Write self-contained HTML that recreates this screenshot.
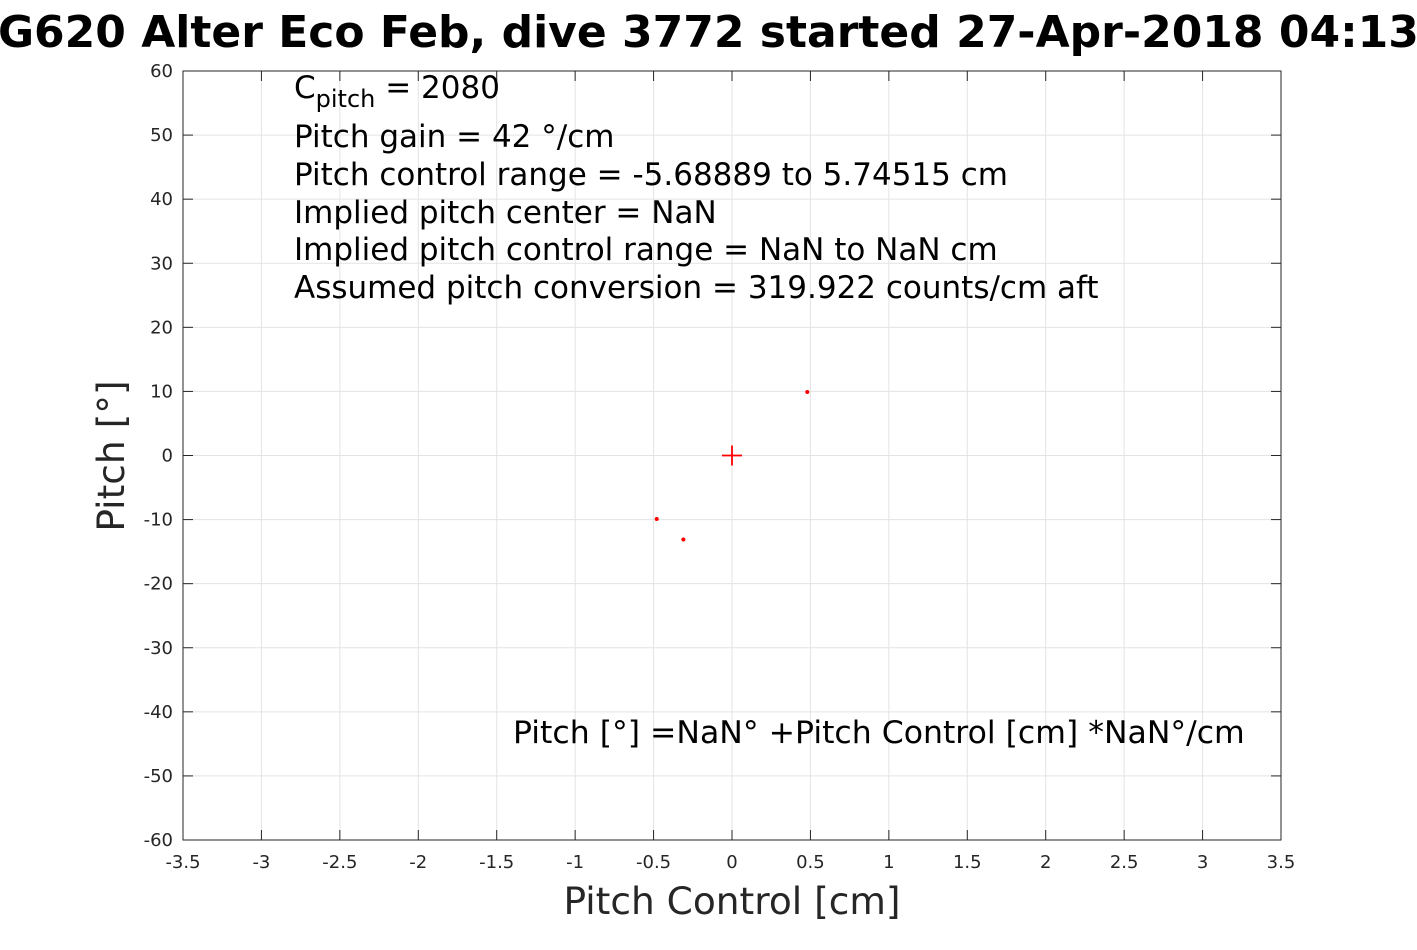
<!DOCTYPE html>
<html><head><meta charset="utf-8"><style>
body{margin:0;background:#fff;width:1417px;height:945px;overflow:hidden}
text{font-family:"DejaVu Sans","Liberation Sans",sans-serif}
</style></head><body>
<svg id="chart" width="1417" height="945" xmlns="http://www.w3.org/2000/svg">
<text x="732" y="47" text-anchor="middle" font-size="44" font-weight="bold" fill="#000">SG620 Alter Eco Feb, dive 3772 started 27-Apr-2018 04:13:42</text>
<rect x="183" y="71" width="1098" height="769" fill="#fff"/>
<g id="grid"></g>
<g id="ticks"></g>
<rect x="183" y="71" width="1098" height="769" fill="none" stroke="#262626" stroke-width="1"/>
<g id="marks"></g>
<g font-size="31" fill="#000">
<text x="294" y="98">C<tspan font-size="24" dy="9">pitch</tspan><tspan dy="-9"> = 2080</tspan></text>
<text x="294" y="147">Pitch gain = 42 °/cm</text>
<text x="294" y="185">Pitch control range = -5.68889 to 5.74515 cm</text>
<text x="294" y="223">Implied pitch center = NaN</text>
<text x="294" y="260">Implied pitch control range = NaN to NaN cm</text>
<text x="294" y="298">Assumed pitch conversion = 319.922 counts/cm aft</text>
</g>
<text x="513" y="743" font-size="31.5" fill="#000">Pitch [°] =NaN° +Pitch Control [cm] *NaN°/cm</text>
<text x="732" y="914" text-anchor="middle" font-size="37.5" fill="#262626">Pitch Control [cm]</text>
<text transform="translate(124,456) rotate(-90)" text-anchor="middle" font-size="37.5" fill="#262626">Pitch [°]</text>
</svg>
<script>
const xTicks=[-3.5,-3,-2.5,-2,-1.5,-1,-0.5,0,0.5,1,1.5,2,2.5,3,3.5];
const yTicks=[-60,-50,-40,-30,-20,-10,0,10,20,30,40,50,60];
const pitchControl=[0.48,-0.48,-0.31];
const pitchDeg=[9.9,-9.9,-13.1];
const centerX=[0];
const centerY=[0];
const NS="http://www.w3.org/2000/svg";
const X0=183,X1=1281,Y0=840,Y1=71;
function sx(v){return X0+(v+3.5)/7*(X1-X0);}
function sy(v){return Y0-(v+60)/120*(Y0-Y1);}
function mk(t,a,p){const e=document.createElementNS(NS,t);for(const k in a)e.setAttribute(k,a[k]);p.appendChild(e);return e;}
const grid=document.getElementById('grid'),ticks=document.getElementById('ticks'),marks=document.getElementById('marks');
xTicks.forEach(v=>{const x=sx(v);
 const g=mk('line',{x1:x,x2:x,y1:Y1,y2:Y0,stroke:'#e3e3e3','stroke-width':1},grid);
 
 
 mk('line',{x1:x,x2:x,y1:Y0,y2:Y0-10,stroke:'#262626'},ticks);
 mk('line',{x1:x,x2:x,y1:Y1,y2:Y1+10,stroke:'#262626'},ticks);
 const t=mk('text',{x:x,y:868,'text-anchor':'middle','font-size':18,fill:'#262626'},ticks);
 
 
 t.textContent=String(v);});
yTicks.forEach(v=>{const y=sy(v);
 const g=mk('line',{x1:X0,x2:X1,y1:y,y2:y,stroke:'#e3e3e3','stroke-width':1},grid);
 
 
 mk('line',{x1:X0,x2:X0+10,y1:y,y2:y,stroke:'#262626'},ticks);
 mk('line',{x1:X1,x2:X1-10,y1:y,y2:y,stroke:'#262626'},ticks);
 const t=mk('text',{x:173,y:y+6,'text-anchor':'end','font-size':18,fill:'#262626'},ticks);
 
 
 t.textContent=String(v);});
pitchControl.forEach((v,i)=>{
 const c=mk('circle',{cx:sx(v),cy:sy(pitchDeg[i]),r:2,fill:'#f00'},marks);
 
 });
centerX.forEach((v,i)=>{const x=sx(v),y=sy(centerY[i]);
 const p=mk('path',{d:`M${x-10} ${y}H${x+10}M${x} ${y-10}V${y+10}`,stroke:'#f00','stroke-width':1.8},marks);
 
 });
</script>
</body></html>
